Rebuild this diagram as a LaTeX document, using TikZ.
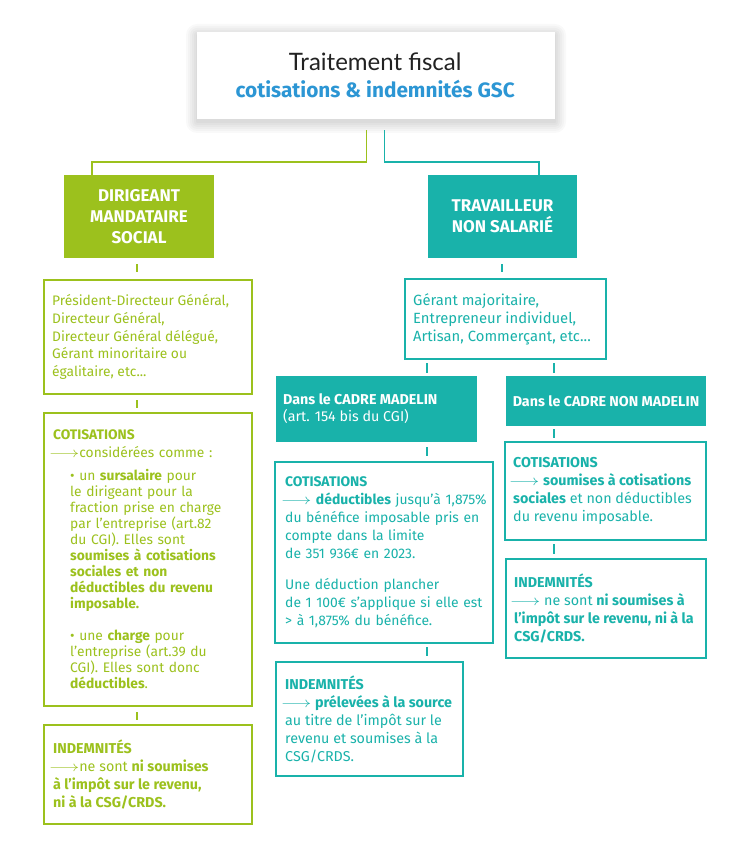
\documentclass[tikz,border=0pt]{standalone}
\usepackage{fontspec}
\setmainfont{Fira Sans}
\newfontfamily\titlefont{Lato}
\usetikzlibrary{calc}
\definecolor{gr}{HTML}{9CC11D}
\definecolor{tl}{HTML}{19B2AA}
\definecolor{bl}{HTML}{2C96D4}
\definecolor{tk}{HTML}{222222}
\newcommand\arr{\hspace*{-4pt}\scalebox{1.3}[1]{$\longrightarrow$}}
\tikzset{
  frame/.style={draw, line width=1.2pt, anchor=north west, inner sep=0pt, outer sep=0pt},
  gframe/.style={frame, draw=gr},
  tframe/.style={frame, draw=tl},
  hdr/.style={anchor=north west, inner sep=0pt, outer sep=0pt, text=white},
  tx/.style={anchor=west, align=left, inner sep=0pt, font=\fontsize{14.3}{18}\selectfont},
  gline/.style={draw=gr, line width=1.2pt},
  tline/.style={draw=tl, line width=1.2pt},
}
\begin{document}
\begin{tikzpicture}[x=1pt,y=-1pt]
\useasboundingbox[fill=white] (0,0) rectangle (752,850);
% title shadow
\foreach \s in {1,3,5,7,9,11}{
  \fill[black,opacity=0.022,rounded corners=\s pt] (197-\s,32-\s+3) rectangle (555+\s,119+\s+3);
}
\node[anchor=north west, fill=white, minimum width=358pt, minimum height=87pt, inner sep=0pt] (title) at (197,32) {};
\node[anchor=base, inner sep=0pt, text=tk, font=\titlefont\fontsize{24}{28}\selectfont] (title-a) at ($(title.north)+(-1,39)$) {Traitement fiscal};
\node[anchor=base, inner sep=0pt, text=bl, font=\bfseries\fontsize{20.8}{24}\selectfont] (title-b) at ($(title.north)+(-1,66)$) {cotisations \& indemnités GSC};

% headers
\node[hdr, fill=gr, minimum width=150pt, minimum height=83pt] (dms) at (64,175) {};
\node[align=center, text=white, font=\bfseries\fontsize{17}{21}\selectfont] at (dms.center) {DIRIGEANT\\MANDATAIRE\\SOCIAL};
\node[hdr, fill=tl, minimum width=149pt, minimum height=83pt] (tns) at (428,175) {};
\node[align=center, text=white, font=\bfseries\fontsize{17}{21}\selectfont] at (tns.center) {TRAVAILLEUR\\NON SALARIÉ};

% connectors from title
\draw[gline] ($(title.south)+(-10,11)$) |- ($(dms.north west)+(28,-13)$) -- ($(dms.north west)+(28,0)$);
\draw[tline] ($(title.south)+(8,11)$) |- ($(tns.north west)+(111,-13)$) -- ($(tns.north west)+(111,0)$);

% left column
\node[gframe, minimum width=208pt, minimum height=114pt] (pres) at (44,280) {};
\node[tx, text=gr, font=\fontsize{13.8}{17.8}\selectfont] at ($(pres.west)+(8,0)$) {Président-Directeur Général,\\Directeur Général,\\Directeur Général délégué,\\Gérant minoritaire ou\\égalitaire, etc...};

\node[gframe, minimum width=208pt, minimum height=293pt] (lcot) at (44,413) {};
\node[tx, text width=200pt, text=gr, font=\fontsize{13.8}{16}\selectfont] at ($(lcot.west)+(9,0)$) {%
\textbf{COTISATIONS}\\[2pt]
\arr considérées comme :\par
\vspace{7pt}
{\leftskip=17pt • un \textbf{sursalaire} pour\\
le dirigeant pour la\\
fraction prise en charge\\
par l’entreprise (art.82\\
du CGI). Elles sont\\
\textbf{soumises à cotisations}\\
\textbf{sociales et non}\\
\textbf{déductibles du revenu}\\
\textbf{imposable.}\par}
\vspace{16pt}
{\leftskip=17pt • une \textbf{charge} pour\\
l’entreprise (art.39 du\\
CGI). Elles sont donc\\
\textbf{déductibles}.\par}};

\node[gframe, minimum width=208pt, minimum height=99pt] (lind) at (44,725) {};
\node[tx, text=gr] at ($(lind.west)+(9,0)$) {\textbf{INDEMNITÉS}\\
\arr ne sont \textbf{ni soumises}\\
\textbf{à l’impôt sur le revenu,}\\
\textbf{ni à la CSG/CRDS.}};

% right column
\node[tframe, minimum width=201pt, minimum height=80pt] (ger) at (405,279) {};
\node[tx, text=tl, font=\fontsize{14.8}{18}\selectfont] at ($(ger.west)+(8,0)$) {Gérant majoritaire,\\Entrepreneur individuel,\\Artisan, Commerçant, etc...};

\node[hdr, fill=tl, minimum width=201pt, minimum height=66pt] (mad) at (276,376) {};
\node[tx, text=white, font=\fontsize{14.3}{17}\selectfont] at ($(mad.west)+(7,0)$) {\textbf{Dans le CADRE MADELIN}\\(art. 154 bis du CGI)};

\node[hdr, fill=tl, minimum width=200pt, minimum height=50pt] (nmad) at (506,376) {};
\node[text=white, inner sep=0pt, font=\bfseries\fontsize{14.3}{17}\selectfont] at (nmad.center) {Dans le CADRE NON MADELIN};

\node[tframe, minimum width=218pt, minimum height=181pt] (mcot) at (275,462) {};
\node[tx, text width=220pt, text=tl, font=\fontsize{13.9}{18}\selectfont] at ($(mcot.west)+(10,0)$) {%
\textbf{COTISATIONS}\\
\arr\ \textbf{déductibles} jusqu'à 1,875\%\\
du bénéfice imposable pris en\\
compte dans la limite\\
de 351 936€ en 2023.\par
\vspace{13pt}
Une déduction plancher\\
de 1 100€ s'applique si elle est\\
> à 1,875\% du bénéfice.\par};

\node[tframe, minimum width=187pt, minimum height=114pt] (mind) at (276,662) {};
\node[tx, text=tl] at ($(mind.west)+(9,0)$) {\textbf{INDEMNITÉS}\\
\arr\ \textbf{prélevées à la source}\\
au titre de l'impôt sur le\\
revenu et soumises à la\\
CSG/CRDS.};

\node[tframe, minimum width=201pt, minimum height=98pt] (ncot) at (505,442) {};
\node[tx, text=tl] at ($(ncot.west)+(8,0)$) {\textbf{COTISATIONS}\\
\arr\ \textbf{soumises à cotisations}\\
\textbf{sociales} et non déductibles\\
du revenu imposable.};

\node[tframe, minimum width=200pt, minimum height=99pt] (nind) at (506,559) {};
\node[tx, text=tl] at ($(nind.west)+(8,0)$) {\textbf{INDEMNITÉS}\\
\arr\ ne sont \textbf{ni soumises à}\\
\textbf{l’impôt sur le revenu, ni à la}\\
\textbf{CSG/CRDS.}};

% ticks
\draw[gline] ($(dms.south -| 137,0)+(0,6)$) -- ($(pres.north -| 137,0)+(0,-8)$);
\draw[gline] ($(pres.south -| 137,0)+(0,6)$) -- ($(lcot.north -| 137,0)+(0,-5)$);
\draw[gline] ($(lcot.south -| 137,0)+(0,6)$) -- ($(lind.north -| 137,0)+(0,-5)$);
\draw[tline] ($(tns.south -| 502,0)+(0,6)$) -- ($(ger.north -| 502,0)+(0,-7)$);
\draw[tline] ($(ger.south -| 427,0)+(0,4)$) -- ($(mad.north -| 427,0)+(0,-3)$);
\draw[tline] ($(ger.south -| 554,0)+(0,4)$) -- ($(nmad.north -| 554,0)+(0,-3)$);
\draw[tline] ($(mad.south -| 427,0)+(0,5)$) -- ($(mcot.north -| 427,0)+(0,-6)$);
\draw[tline] ($(mcot.south -| 427,0)+(0,4)$) -- ($(mind.north -| 427,0)+(0,-6)$);
\draw[tline] ($(nmad.south -| 554,0)+(0,3)$) -- ($(ncot.north -| 554,0)+(0,-4)$);
\draw[tline] ($(ncot.south -| 554,0)+(0,4)$) -- ($(nind.north -| 554,0)+(0,-5)$);
\end{tikzpicture}
\end{document}
